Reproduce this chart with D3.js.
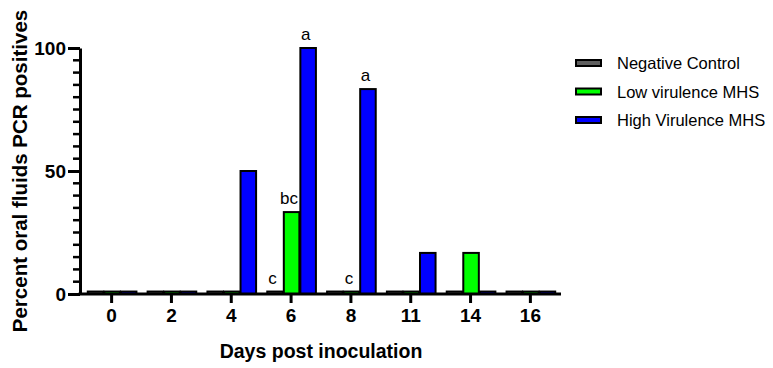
<!DOCTYPE html>
<html><head><meta charset="utf-8">
<script src="https://cdn.jsdelivr.net/npm/d3@7"></script>
<style>body{margin:0;background:#fff}svg{display:block}text{font-family:Arial,"Liberation Sans",sans-serif}</style>
</head><body>
<svg id="chart" width="773" height="368"></svg>
<script>
const days = ["0","2","4","6","8","11","14","16"];
const seriesNames = ["Negative Control","Low virulence MHS","High Virulence MHS"];
const seriesColors = ["#5f5f5f","#00ff00","#0000ff"];
const negativeControl = [1,1,1,1,1,1,1,1];
const lowVirulence = [1,1,1,33.3,1,1,16.7,1];
const highVirulence = [1,1,50,100,83.3,16.7,1,1];
const yMajorTicks = [0,50,100];
const annotations = [
  {day:"6", series:0, label:"c"},
  {day:"6", series:1, label:"bc"},
  {day:"6", series:2, label:"a"},
  {day:"8", series:1, label:"c"},
  {day:"8", series:2, label:"a"}
];
const values = [negativeControl, lowVirulence, highVirulence];

(function(){
const svg = d3.select("#chart");
const mLeft = 80, mRight = 561, mTop = 48, mBottom = 294;
const FONT = "Arial, 'Liberation Sans', sans-serif";

const x0 = d3.scaleBand().domain(days).range([82, 560]).paddingInner(0.17).paddingOuter(0.08);
const x1 = d3.scaleBand().domain(d3.range(3)).range([0, x0.bandwidth()]);
const y = d3.scaleLinear().domain([0,100]).range([mBottom, mTop]);

// bars
const g = svg.append("g");
days.forEach((d,i)=>{
  values.forEach((vals,s)=>{
    g.append("rect")
      .attr("x", x0(d)+x1(s)+1)
      .attr("y", y(vals[i]))
      .attr("width", x1.bandwidth()-1)
      .attr("height", y(0)-y(vals[i]))
      .attr("fill", seriesColors[s])
      .attr("stroke", "#000")
      .attr("stroke-width", 2);
  });
});

// annotations
annotations.forEach(a=>{
  const i = days.indexOf(a.day);
  const v = values[a.series][i];
  svg.append("text")
    .attr("x", x0(a.day)+x1(a.series)+x1.bandwidth()/2-2)
    .attr("y", y(v)-8)
    .attr("text-anchor","middle")
    .attr("font-size", 17)
    .attr("fill","#000")
    .text(a.label);
});

// y axis minor ticks
const minorVals = d3.range(0,101,5).filter(v=>!yMajorTicks.includes(v));
svg.append("g").selectAll("line").data(minorVals).join("line")
  .attr("x1", mLeft-7).attr("x2", mLeft)
  .attr("y1", d=>y(d)).attr("y2", d=>y(d))
  .attr("stroke","#000").attr("stroke-width",2.5);

// y axis major
const yAxis = d3.axisLeft(y).tickValues(yMajorTicks).tickSize(12).tickSizeOuter(0).tickPadding(2);
const gy = svg.append("g").attr("transform",`translate(${mLeft},0)`).call(yAxis);
gy.select(".domain").attr("stroke","#000").attr("stroke-width",3);
gy.selectAll(".tick line").attr("stroke","#000").attr("stroke-width",3);
gy.selectAll("text").attr("font-size",19).attr("font-weight","bold").attr("fill","#000").attr("font-family",FONT);

// x axis
const xAxis = d3.axisBottom(x0).tickSize(9).tickSizeOuter(0).tickPadding(6);
const gx = svg.append("g").attr("transform",`translate(0,${mBottom})`).call(xAxis);
gx.select(".domain").attr("d",`M${mLeft-1.5},0H${mRight}`).attr("stroke","#000").attr("stroke-width",3);
gx.selectAll(".tick line").attr("stroke","#000").attr("stroke-width",3);
gx.selectAll("text").attr("font-size",19).attr("font-weight","bold").attr("fill","#000").attr("font-family",FONT);

// titles
svg.append("text").attr("x",321).attr("y",358).attr("text-anchor","middle")
  .attr("font-size",19.5).attr("font-weight","bold").text("Days post inoculation");
svg.append("text").attr("transform","translate(27,171) rotate(-90)").attr("text-anchor","middle")
  .attr("font-size",20.5).attr("font-weight","bold").text("Percent oral fluids PCR positives");

// legend
seriesNames.forEach((n,i)=>{
  const ly = 63 + i*28.5;
  svg.append("rect").attr("x",576).attr("y",ly-3).attr("width",25).attr("height",6)
    .attr("fill",seriesColors[i]).attr("stroke","#000").attr("stroke-width",2);
  svg.append("text").attr("x",617).attr("y",ly+6).attr("font-size",16.5).attr("fill","#000").text(n);
});
})();
</script>
</body></html>
